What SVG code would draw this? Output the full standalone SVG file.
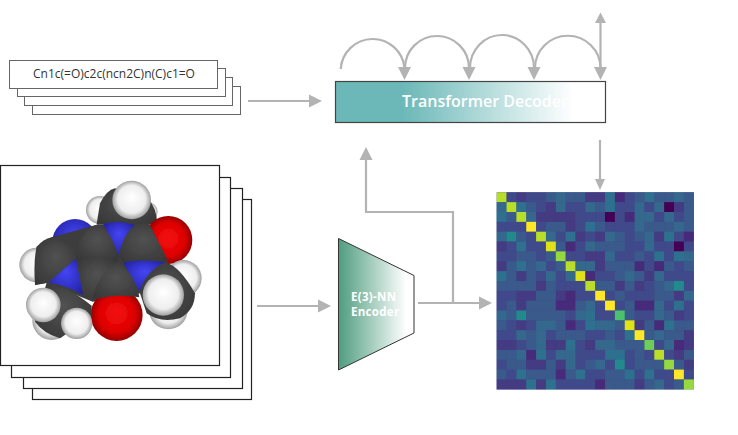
<svg xmlns="http://www.w3.org/2000/svg" width="738" height="435" viewBox="0 0 738 435">
<style>
text{font-family:"Open Sans","Noto Sans","Liberation Sans",sans-serif}
.sm{fill:#fff;stroke:#666;stroke-width:1}
.mo{fill:#fff;stroke:#222;stroke-width:1.2}
.ln{fill:none;stroke:#b3b3b3;stroke-width:2.2}
.ah{fill:#b3b3b3}
.H{fill:url(#gH)}.C{fill:url(#gC)}.N{fill:url(#gN)}.O{fill:url(#gO)}
#heatmap g rect{width:1.02px;height:1.02px}
.a{fill:#fde725}.b{fill:#dfe318}.c{fill:#b8de29}.d{fill:#95d840}.e{fill:#6ece58}.g{fill:#4ac16d}
.v0{fill:#440154}.v1{fill:#472a7a}.v2{fill:#443a83}.v3{fill:#3f4a8a}.v4{fill:#3a5a8c}.v5{fill:#34688d}.v6{fill:#2d718e}.v7{fill:#238a8d}
</style>
<defs>
<radialGradient id="gH" cx=".5" cy=".5" r=".5" fx=".5" fy=".42"><stop offset="0" stop-color="#fff"/><stop offset=".72" stop-color="#eee"/><stop offset="1" stop-color="#a0a0a0"/></radialGradient>
<radialGradient id="gC" cx=".5" cy=".5" r=".6" fx=".5" fy=".4"><stop offset="0" stop-color="#525252"/><stop offset="1" stop-color="#383838"/></radialGradient>
<radialGradient id="gN" cx=".5" cy=".5" r=".6" fx=".5" fy=".35"><stop offset="0" stop-color="#4545f5"/><stop offset="1" stop-color="#2424a8"/></radialGradient>
<radialGradient id="gO" cx=".5" cy=".5" r=".5" fx=".5" fy=".45"><stop offset="0" stop-color="#f51010"/><stop offset=".7" stop-color="#dd0000"/><stop offset="1" stop-color="#950000"/></radialGradient>
<linearGradient id="gD"><stop offset=".25" stop-color="#6cb8b8"/><stop offset=".88" stop-color="#fff"/></linearGradient>
<linearGradient id="gE"><stop offset="0" stop-color="#4f9d80"/><stop offset=".9" stop-color="#fff"/></linearGradient>
<filter id="softM" x="-2%" y="-2%" width="104%" height="104%"><feGaussianBlur stdDeviation="1.200"/></filter>
<filter id="softH" x="-1%" y="-1%" width="102%" height="102%"><feGaussianBlur stdDeviation=".05"/></filter>
</defs>

<g id="smiles-stack">
<rect class="sm" x="32.500" y="86.500" width="208" height="28"/>
<rect class="sm" x="24.500" y="77.500" width="208" height="28"/>
<rect class="sm" x="17.500" y="68.500" width="208" height="28"/>
<rect class="sm" x="9.500" y="60.500" width="208" height="28"/>
<text x="114" y="77.500" font-size="12" text-anchor="middle" fill="#333">Cn1c(=O)c2c(ncn2C)n(C)c1=O</text>
</g>

<g id="molecule-stack">
<rect class="mo" x="32.500" y="199.500" width="219" height="200"/>
<rect class="mo" x="23.500" y="188.500" width="219" height="200"/>
<rect class="mo" x="11.500" y="177.500" width="219" height="200"/>
<rect class="mo" x="0.500" y="165.500" width="219" height="200"/>
<g transform="translate(0 160) scale(.3333)" filter="url(#softM)">
<circle class="H" cx="300" cy="150" r="42"/>
<circle class="H" cx="445" cy="155" r="28"/>
<circle class="H" cx="505" cy="450" r="58"/>
<circle class="H" cx="155" cy="482" r="58"/>
<path class="C" d="M290 192L300 130Q320 90 345 85L440 110Q470 140 472 192Z"/>
<circle class="H" cx="395" cy="120" r="58"/>
<circle class="O" cx="505" cy="240" r="72"/>
<circle class="N" cx="225" cy="245" r="68"/>
<circle class="H" cx="110" cy="315" r="52"/>
<path fill="#3c3c3c" d="M155 232L295 193L447 190L505 305L420 400L278 425L140 368L105 375L110 260Z"/>
<path class="C" d="M155 232Q200 250 232 270L228 295L145 368L105 375Q100 300 110 260Q130 238 155 232Z"/>
<path class="N" d="M310 192Q355 178 405 195L355 285Z"/>
<path class="C" d="M295 193Q330 210 355 285L355 305Q280 285 228 295L232 265Q250 205 295 193Z"/>
<path class="C" d="M405 195Q430 188 447 190L505 305L440 295L370 308L355 290Q370 220 405 195Z"/>
<circle class="H" cx="550" cy="355" r="55"/>
<circle class="O" cx="350" cy="465" r="78"/>
<path class="N" d="M228 295L145 368Q190 372 250 405Z"/>
<path class="N" d="M370 308Q420 295 497 307Q440 330 418 395Z"/>
<path class="C" d="M228 295Q300 280 355 305Q290 360 278 420L250 405Z"/>
<path class="C" d="M355 305Q410 350 418 412Q350 400 278 420Q285 350 355 305Z"/>
<path class="C" d="M140 368Q200 376 275 437L275 470L180 535Q130 520 105 485Z"/>
<circle class="H" cx="130" cy="435" r="52"/>
<circle class="H" cx="230" cy="490" r="47"/>
<path class="C" d="M497 307Q540 320 585 400Q585 450 540 475Q480 490 440 460L420 400Q440 330 497 307Z"/>
<circle class="H" cx="490" cy="405" r="62"/>
</g>
</g>

<g id="transformer-decoder">
<rect x="335.500" y="81.500" width="270" height="41" fill="url(#gD)" stroke="#444" stroke-width="1.200"/>
<text x="402" y="106.500" font-size="16" font-weight="600" fill="#fff">Transformer Decoder</text>
</g>

<g id="encoder">
<path d="M338.500 238.500L414 275.500V333L338.500 370Z" fill="url(#gE)" stroke="#333" stroke-width="1"/>
<text x="351" y="300.500" font-size="11.500" letter-spacing=".3" font-weight="700" fill="#fff">E(3)-NN</text>
<text x="351" y="316.300" font-size="11.500" letter-spacing=".3" font-weight="700" fill="#fff">Encoder</text>
</g>

<g id="heatmap" transform="translate(496.700 192.300) scale(9.850)" filter="url(#softH)">
<rect class="v3" width="20" height="20"/>
<g transform="translate(0 0)"><rect class="c" x="0"/><rect class="v3" x="1"/><rect class="v2" x="2"/><rect class="v3" x="3"/><rect class="v3" x="4"/><rect class="v4" x="5"/><rect class="v5" x="6"/><rect class="v4" x="7"/><rect class="v4" x="8"/><rect class="v2" x="9"/><rect class="v2" x="10"/><rect class="v6" x="11"/><rect class="v1" x="12"/><rect class="v3" x="13"/><rect class="v4" x="14"/><rect class="v6" x="15"/><rect class="v4" x="16"/><rect class="v4" x="17"/><rect class="v5" x="18"/><rect class="v4" x="19"/></g>
<g transform="translate(0 1)"><rect class="v5" x="0"/><rect class="c" x="1"/><rect class="v6" x="2"/><rect class="v4" x="3"/><rect class="v3" x="4"/><rect class="v2" x="5"/><rect class="v5" x="6"/><rect class="v3" x="7"/><rect class="v3" x="8"/><rect class="v5" x="9"/><rect class="v4" x="10"/><rect class="v6" x="11"/><rect class="v3" x="12"/><rect class="v3" x="13"/><rect class="v5" x="14"/><rect class="v3" x="15"/><rect class="v5" x="16"/><rect class="v0" x="17"/><rect class="v2" x="18"/><rect class="v4" x="19"/></g>
<g transform="translate(0 2)"><rect class="v6" x="0"/><rect class="v4" x="1"/><rect class="c" x="2"/><rect class="v5" x="3"/><rect class="v2" x="4"/><rect class="v2" x="5"/><rect class="v2" x="6"/><rect class="v2" x="7"/><rect class="v3" x="8"/><rect class="v3" x="9"/><rect class="v3" x="10"/><rect class="v0" x="11"/><rect class="v3" x="12"/><rect class="v1" x="13"/><rect class="v5" x="14"/><rect class="v5" x="15"/><rect class="v3" x="16"/><rect class="v5" x="17"/><rect class="v3" x="18"/><rect class="v4" x="19"/></g>
<g transform="translate(0 3)"><rect class="v3" x="0"/><rect class="v3" x="1"/><rect class="v3" x="2"/><rect class="a" x="3"/><rect class="v3" x="4"/><rect class="v4" x="5"/><rect class="v4" x="6"/><rect class="v2" x="7"/><rect class="v3" x="8"/><rect class="v6" x="9"/><rect class="v4" x="10"/><rect class="v3" x="11"/><rect class="v3" x="12"/><rect class="v3" x="13"/><rect class="v5" x="14"/><rect class="v4" x="15"/><rect class="v4" x="16"/><rect class="v4" x="17"/><rect class="v5" x="18"/><rect class="v4" x="19"/></g>
<g transform="translate(0 4)"><rect class="v5" x="0"/><rect class="v7" x="1"/><rect class="v4" x="2"/><rect class="v3" x="3"/><rect class="c" x="4"/><rect class="v5" x="5"/><rect class="v3" x="6"/><rect class="v6" x="7"/><rect class="v2" x="8"/><rect class="v3" x="9"/><rect class="v2" x="10"/><rect class="v5" x="11"/><rect class="v4" x="12"/><rect class="v3" x="13"/><rect class="v4" x="14"/><rect class="v5" x="15"/><rect class="v2" x="16"/><rect class="v6" x="17"/><rect class="v3" x="18"/><rect class="v1" x="19"/></g>
<g transform="translate(0 5)"><rect class="v2" x="0"/><rect class="v3" x="1"/><rect class="v6" x="2"/><rect class="v3" x="3"/><rect class="v3" x="4"/><rect class="b" x="5"/><rect class="v4" x="6"/><rect class="v1" x="7"/><rect class="v3" x="8"/><rect class="v5" x="9"/><rect class="v4" x="10"/><rect class="v4" x="11"/><rect class="v4" x="12"/><rect class="v3" x="13"/><rect class="v3" x="14"/><rect class="v5" x="15"/><rect class="v3" x="16"/><rect class="v3" x="17"/><rect class="v0" x="18"/><rect class="v3" x="19"/></g>
<g transform="translate(0 6)"><rect class="v3" x="0"/><rect class="v3" x="1"/><rect class="v4" x="2"/><rect class="v4" x="3"/><rect class="v3" x="4"/><rect class="v4" x="5"/><rect class="d" x="6"/><rect class="v3" x="7"/><rect class="v3" x="8"/><rect class="v2" x="9"/><rect class="v2" x="10"/><rect class="v5" x="11"/><rect class="v3" x="12"/><rect class="v3" x="13"/><rect class="v4" x="14"/><rect class="v3" x="15"/><rect class="v6" x="16"/><rect class="v3" x="17"/><rect class="v6" x="18"/><rect class="v5" x="19"/></g>
<g transform="translate(0 7)"><rect class="v2" x="0"/><rect class="v4" x="1"/><rect class="v6" x="2"/><rect class="v4" x="3"/><rect class="v5" x="4"/><rect class="v3" x="5"/><rect class="v4" x="6"/><rect class="c" x="7"/><rect class="v5" x="8"/><rect class="v5" x="9"/><rect class="v2" x="10"/><rect class="v4" x="11"/><rect class="v4" x="12"/><rect class="v4" x="13"/><rect class="v1" x="14"/><rect class="v3" x="15"/><rect class="v1" x="16"/><rect class="v4" x="17"/><rect class="v3" x="18"/><rect class="v4" x="19"/></g>
<g transform="translate(0 8)"><rect class="v6" x="0"/><rect class="v4" x="1"/><rect class="v2" x="2"/><rect class="v4" x="3"/><rect class="v3" x="4"/><rect class="v5" x="5"/><rect class="v3" x="6"/><rect class="v5" x="7"/><rect class="b" x="8"/><rect class="v1" x="9"/><rect class="v3" x="10"/><rect class="v3" x="11"/><rect class="v4" x="12"/><rect class="v5" x="13"/><rect class="v4" x="14"/><rect class="v2" x="15"/><rect class="v5" x="16"/><rect class="v3" x="17"/><rect class="v3" x="18"/><rect class="v3" x="19"/></g>
<g transform="translate(0 9)"><rect class="v4" x="0"/><rect class="v4" x="1"/><rect class="v4" x="2"/><rect class="v4" x="3"/><rect class="v2" x="4"/><rect class="v4" x="5"/><rect class="v3" x="6"/><rect class="v3" x="7"/><rect class="v3" x="8"/><rect class="c" x="9"/><rect class="v4" x="10"/><rect class="v4" x="11"/><rect class="v2" x="12"/><rect class="v4" x="13"/><rect class="v2" x="14"/><rect class="v3" x="15"/><rect class="v4" x="16"/><rect class="v5" x="17"/><rect class="v7" x="18"/><rect class="v3" x="19"/></g>
<g transform="translate(0 10)"><rect class="v3" x="0"/><rect class="v3" x="1"/><rect class="v2" x="2"/><rect class="v2" x="3"/><rect class="v4" x="4"/><rect class="v4" x="5"/><rect class="v2" x="6"/><rect class="v1" x="7"/><rect class="v3" x="8"/><rect class="v3" x="9"/><rect class="a" x="10"/><rect class="v3" x="11"/><rect class="v4" x="12"/><rect class="v3" x="13"/><rect class="v3" x="14"/><rect class="v3" x="15"/><rect class="v4" x="16"/><rect class="v4" x="17"/><rect class="v2" x="18"/><rect class="v5" x="19"/></g>
<g transform="translate(0 11)"><rect class="v3" x="0"/><rect class="v4" x="1"/><rect class="v2" x="2"/><rect class="v4" x="3"/><rect class="v4" x="4"/><rect class="v4" x="5"/><rect class="v1" x="6"/><rect class="v1" x="7"/><rect class="v4" x="8"/><rect class="v5" x="9"/><rect class="v3" x="10"/><rect class="a" x="11"/><rect class="v3" x="12"/><rect class="v4" x="13"/><rect class="v1" x="14"/><rect class="v1" x="15"/><rect class="v5" x="16"/><rect class="v3" x="17"/><rect class="v6" x="18"/><rect class="v3" x="19"/></g>
<g transform="translate(0 12)"><rect class="v5" x="0"/><rect class="v4" x="1"/><rect class="v7" x="2"/><rect class="v4" x="3"/><rect class="v4" x="4"/><rect class="v4" x="5"/><rect class="v4" x="6"/><rect class="v3" x="7"/><rect class="v5" x="8"/><rect class="v6" x="9"/><rect class="v3" x="10"/><rect class="v3" x="11"/><rect class="g" x="12"/><rect class="v4" x="13"/><rect class="v3" x="14"/><rect class="v3" x="15"/><rect class="v5" x="16"/><rect class="v4" x="17"/><rect class="v2" x="18"/><rect class="v3" x="19"/></g>
<g transform="translate(0 13)"><rect class="v4" x="0"/><rect class="v3" x="1"/><rect class="v2" x="2"/><rect class="v3" x="3"/><rect class="v5" x="4"/><rect class="v5" x="5"/><rect class="v4" x="6"/><rect class="v1" x="7"/><rect class="v3" x="8"/><rect class="v6" x="9"/><rect class="v5" x="10"/><rect class="v5" x="11"/><rect class="v4" x="12"/><rect class="b" x="13"/><rect class="v2" x="14"/><rect class="v4" x="15"/><rect class="v1" x="16"/><rect class="v6" x="17"/><rect class="v4" x="18"/><rect class="v4" x="19"/></g>
<g transform="translate(0 14)"><rect class="v3" x="0"/><rect class="v3" x="1"/><rect class="v5" x="2"/><rect class="v4" x="3"/><rect class="v5" x="4"/><rect class="v3" x="5"/><rect class="v4" x="6"/><rect class="v4" x="7"/><rect class="v4" x="8"/><rect class="v3" x="9"/><rect class="v3" x="10"/><rect class="v4" x="11"/><rect class="v3" x="12"/><rect class="v6" x="13"/><rect class="a" x="14"/><rect class="v4" x="15"/><rect class="v5" x="16"/><rect class="v4" x="17"/><rect class="v4" x="18"/><rect class="v2" x="19"/></g>
<g transform="translate(0 15)"><rect class="v2" x="0"/><rect class="v2" x="1"/><rect class="v3" x="2"/><rect class="v4" x="3"/><rect class="v5" x="4"/><rect class="v2" x="5"/><rect class="v2" x="6"/><rect class="v6" x="7"/><rect class="v3" x="8"/><rect class="v2" x="9"/><rect class="v5" x="10"/><rect class="v5" x="11"/><rect class="v4" x="12"/><rect class="v4" x="13"/><rect class="v4" x="14"/><rect class="e" x="15"/><rect class="v3" x="16"/><rect class="v5" x="17"/><rect class="v1" x="18"/><rect class="v2" x="19"/></g>
<g transform="translate(0 16)"><rect class="v4" x="0"/><rect class="v4" x="1"/><rect class="v5" x="2"/><rect class="v1" x="3"/><rect class="v6" x="4"/><rect class="v3" x="5"/><rect class="v5" x="6"/><rect class="v5" x="7"/><rect class="v3" x="8"/><rect class="v3" x="9"/><rect class="v3" x="10"/><rect class="v6" x="11"/><rect class="v6" x="12"/><rect class="v3" x="13"/><rect class="v4" x="14"/><rect class="v3" x="15"/><rect class="c" x="16"/><rect class="v3" x="17"/><rect class="v2" x="18"/><rect class="v4" x="19"/></g>
<g transform="translate(0 17)"><rect class="v3" x="0"/><rect class="v4" x="1"/><rect class="v4" x="2"/><rect class="v2" x="3"/><rect class="v2" x="4"/><rect class="v4" x="5"/><rect class="v2" x="6"/><rect class="v5" x="7"/><rect class="v3" x="8"/><rect class="v4" x="9"/><rect class="v5" x="10"/><rect class="v3" x="11"/><rect class="v7" x="12"/><rect class="v3" x="13"/><rect class="v4" x="14"/><rect class="v4" x="15"/><rect class="v4" x="16"/><rect class="d" x="17"/><rect class="v4" x="18"/><rect class="v2" x="19"/></g>
<g transform="translate(0 18)"><rect class="v4" x="0"/><rect class="v3" x="1"/><rect class="v6" x="2"/><rect class="v4" x="3"/><rect class="v4" x="4"/><rect class="v4" x="5"/><rect class="v1" x="6"/><rect class="v4" x="7"/><rect class="v6" x="8"/><rect class="v3" x="9"/><rect class="v3" x="10"/><rect class="v4" x="11"/><rect class="v4" x="12"/><rect class="v6" x="13"/><rect class="v3" x="14"/><rect class="v6" x="15"/><rect class="v3" x="16"/><rect class="v3" x="17"/><rect class="a" x="18"/><rect class="v3" x="19"/></g>
<g transform="translate(0 19)"><rect class="v2" x="0"/><rect class="v2" x="1"/><rect class="v2" x="2"/><rect class="v6" x="3"/><rect class="v2" x="4"/><rect class="v6" x="5"/><rect class="v3" x="6"/><rect class="v3" x="7"/><rect class="v3" x="8"/><rect class="v3" x="9"/><rect class="v1" x="10"/><rect class="v4" x="11"/><rect class="v4" x="12"/><rect class="v4" x="13"/><rect class="v2" x="14"/><rect class="v4" x="15"/><rect class="v5" x="16"/><rect class="v3" x="17"/><rect class="v4" x="18"/><rect class="d" x="19"/></g>
</g>

<g id="connectors">
<path class="ln" d="M248 101H311"/><path class="ah" d="M309 94.500L322 101L309 107.500Z"/>
<path class="ln" d="M257 306H320"/><path class="ah" d="M318 299.500L331 306L318 312.500Z"/>
<path class="ln" d="M418 303H481"/><path class="ah" d="M479 296.500L492 303L479 309.500Z"/>
<path class="ln" d="M453 303V212H366V158"/><path class="ah" d="M359.500 160L366 147L372.500 160Z"/>
<path class="ln" d="M600 140V180"/><path class="ah" d="M595 179L600 190L605 179Z"/>
<path class="ln" d="M340.700 69A32 32 0 0 1 404.500 68"/><path class="ah" d="M398 67H411L404.500 80Z"/>
<path class="ln" d="M405 68A32 32 0 0 1 469 68"/><path class="ah" d="M462.500 67H475.500L469 80Z"/>
<path class="ln" d="M470 68A32 33 0 0 1 534 68"/><path class="ah" d="M527.500 67H540.500L534 80Z"/>
<path class="ln" d="M535 68A32.500 32 0 0 1 600.500 68"/><path class="ah" d="M594 67H607L600.500 80Z"/>
<path class="ln" d="M600.500 68V22" stroke-width="1.500"/><path class="ah" d="M595 23L600.500 12.500L606 23Z"/>
</g>
</svg>
